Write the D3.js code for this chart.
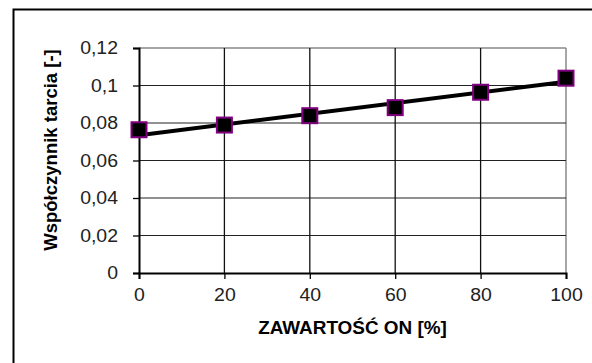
<!DOCTYPE html>
<html><head><meta charset="utf-8">
<script src="https://cdn.jsdelivr.net/npm/d3@7"></script>
<style>body{margin:0;background:#fff}svg{display:block}</style>
</head><body>
<script>
const xValues = [0, 20, 40, 60, 80, 100];
const yValues = [0.0764, 0.0789, 0.0839, 0.0882, 0.0964, 0.1039];
const trendX = [0, 100];
const trendY = [0.0735, 0.1020];
const xTicks = [0, 20, 40, 60, 80, 100];
const yTicks = [0, 0.02, 0.04, 0.06, 0.08, 0.1, 0.12];
const xTitle = "ZAWARTOŚĆ ON [%]";
const yTitle = "Współczynnik tarcia [-]";

(function () {
const W = 592, H = 363;
const FONT = "Liberation Sans, Arial, sans-serif";
const svg = d3.select("body").append("svg").attr("width", W).attr("height", H);
svg.append("rect").attr("width", W).attr("height", H).attr("fill", "#fff");
svg.append("rect").attr("x", 13.5).attr("y", 9.5).attr("width", 600).attr("height", 400)
  .attr("fill", "none").attr("stroke", "#000").attr("stroke-width", 2);

const pL = 139, pR = 566, pT = 48, pB = 273;
const x = d3.scaleLinear().domain([0, 100]).range([pL, pR]);
const y = d3.scaleLinear().domain([0, 0.12]).range([pB, pT]);
const fmt = d => d3.format(".2~f")(d).replace(".", ",");

svg.append("line").attr("x1", pL).attr("x2", pR).attr("y1", pT).attr("y2", pT).attr("stroke", "#888").attr("stroke-width", 1.5);
svg.append("line").attr("x1", pR).attr("x2", pR).attr("y1", pT).attr("y2", pB).attr("stroke", "#888").attr("stroke-width", 1.5);

svg.append("g").selectAll("line").data(yTicks.filter(d => d > 0 && d < 0.12)).join("line")
  .attr("x1", pL).attr("x2", pR).attr("y1", d => y(d)).attr("y2", d => y(d))
  .attr("stroke", "#222").attr("stroke-width", 1);
svg.append("g").selectAll("line").data(xTicks.filter(d => d > 0 && d < 100)).join("line")
  .attr("y1", pT).attr("y2", pB).attr("x1", d => x(d)).attr("x2", d => x(d))
  .attr("stroke", "#111").attr("stroke-width", 1.3);

const yAxis = svg.append("g").attr("transform", `translate(${pL},0)`)
  .call(d3.axisLeft(y).tickValues(yTicks).tickFormat(fmt).tickSize(6).tickPadding(15));
const xAxis = svg.append("g").attr("transform", `translate(0,${pB})`)
  .call(d3.axisBottom(x).tickValues(xTicks).tickSize(6).tickPadding(9));
[yAxis, xAxis].forEach(a => {
  a.select(".domain").attr("stroke", "#000").attr("stroke-width", 2);
  a.selectAll(".tick line").attr("stroke", "#000").attr("stroke-width", 1.3);
  a.selectAll("text").attr("font-family", FONT)
    .attr("font-size", 18).attr("fill", "#222")
    .each(function () {
      const L = this.getComputedTextLength();
      d3.select(this).attr("textLength", L * 1.08).attr("lengthAdjust", "spacingAndGlyphs");
    });
});

svg.append("line").attr("x1", x(trendX[0])).attr("y1", y(trendY[0]))
  .attr("x2", x(trendX[1])).attr("y2", y(trendY[1]))
  .attr("stroke", "#000").attr("stroke-width", 4);

svg.append("g").selectAll("rect").data(xValues.map((d, i) => [d, yValues[i]])).join("rect")
  .attr("x", d => x(d[0]) - 7.5).attr("y", d => y(d[1]) - 7.5)
  .attr("width", 15).attr("height", 15)
  .attr("fill", "#000").attr("stroke", "#800080").attr("stroke-width", 2);

const xt = svg.append("text").attr("x", (pL + pR) / 2).attr("y", 334)
  .attr("text-anchor", "middle").attr("font-family", FONT)
  .attr("font-weight", "bold").attr("font-size", 18).attr("fill", "#000").text(xTitle);
xt.attr("textLength", xt.node().getComputedTextLength() * 1.05).attr("lengthAdjust", "spacingAndGlyphs");
svg.append("text").attr("transform", `translate(57,150) rotate(-90)`)
  .attr("text-anchor", "middle").attr("font-family", FONT)
  .attr("font-weight", "bold").attr("font-size", 18.5).attr("fill", "#000").text(yTitle);
})();
</script>
</body></html>
